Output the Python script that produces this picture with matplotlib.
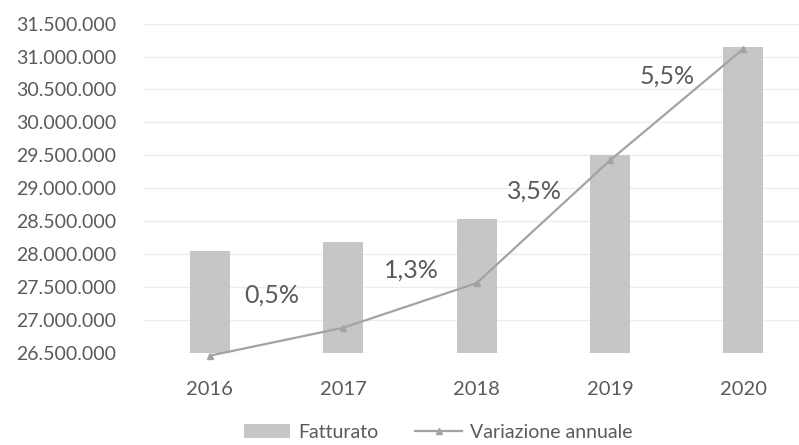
import matplotlib
matplotlib.use("Agg")
import matplotlib.pyplot as plt
from matplotlib.ticker import FuncFormatter, MultipleLocator

plt.rcParams['font.family'] = ['Lato', 'DejaVu Sans']

anni = ["2016", "2017", "2018", "2019", "2020"]
fatturato = [28050000, 28180000, 28530000, 29500000, 31150000]
variazione = [0.0, 0.5, 1.3, 3.5, 5.5]
etichette_var = ["", "0,5%", "1,3%", "3,5%", "5,5%"]

text_col = "#5a5a5a"
bar_col = "#c6c6c6"
line_col = "#a3a3a3"

fig = plt.figure(figsize=(7.99, 4.45), dpi=100)
ax = fig.add_axes([0.179, 0.207, 0.835, 0.740])
x = list(range(len(anni)))
bars = ax.bar(x, [v - 26500000 for v in fatturato], bottom=26500000, width=0.3,
              color=bar_col, label="Fatturato", zorder=2)
ax.set_ylim(26500000, 31500000)
ax.set_xlim(-0.5, 4.5)
ax.yaxis.set_major_locator(MultipleLocator(500000))
ax.yaxis.set_major_formatter(FuncFormatter(lambda v, p: f"{int(round(v)):,}".replace(",", ".")))
ax.set_xticks(x)
ax.set_xticklabels(anni)
ax.grid(axis='y', color="#ececec", linewidth=1.0, zorder=0)
for s in ax.spines.values():
    s.set_visible(False)
ax.tick_params(axis='both', length=0, colors=text_col)
ax.tick_params(axis='y', labelsize=14, pad=19)
ax.tick_params(axis='x', labelsize=14.5, pad=20)

ax2 = ax.twinx()
ax2.set_ylim(0.05, 5.95)
line, = ax2.plot(x, variazione, color=line_col, linewidth=1.6, marker='^', markersize=5,
                 label="Variazione annuale", zorder=3, clip_on=False)
ax2.axis('off')
offsets = [(0, 0), (-71, 33), (-65, 13), (-76, -31), (-76, -27)]
for i, lab in enumerate(etichette_var):
    if lab:
        ax2.annotate(lab, (x[i], variazione[i]), xytext=offsets[i], textcoords='offset pixels',
                     ha='center', va='center', fontsize=18, color=text_col)

fig.legend(handles=[bars, line], labels=["Fatturato", "Variazione annuale"],
           loc='center', bbox_to_anchor=(0.548, 0.028), ncol=2, frameon=False,
           fontsize=14, labelcolor=text_col, handlelength=2.4, handletextpad=0.4,
           columnspacing=1.9, borderpad=0.2)

fig.savefig("out.png", dpi=100, facecolor='white')
